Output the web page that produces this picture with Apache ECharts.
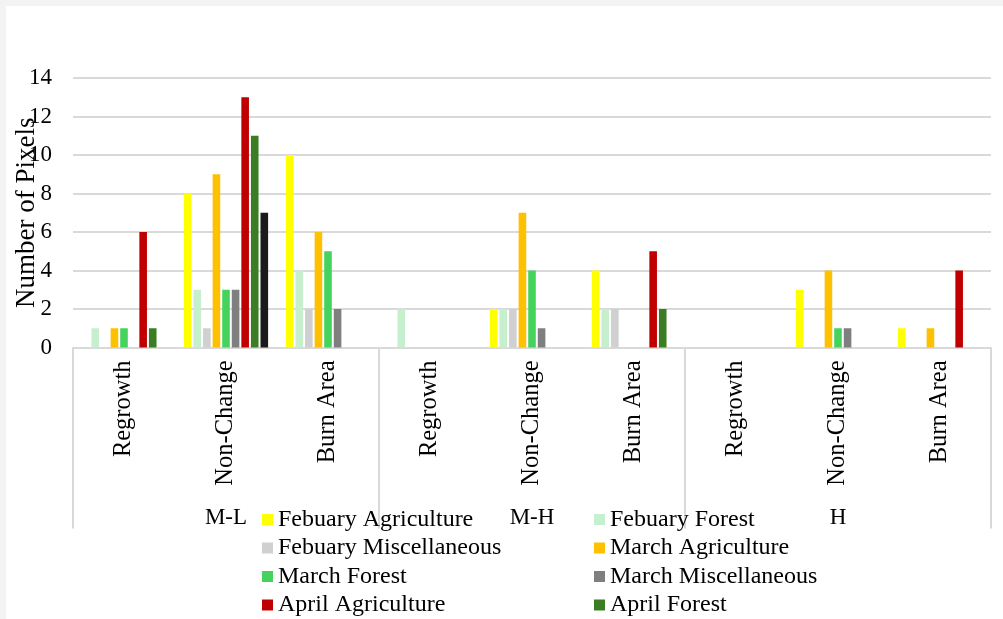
<!DOCTYPE html>
<html>
<head>
<meta charset="utf-8">
<style>
  html, body { margin: 0; padding: 0; background: #f3f3f3; width: 1003px; height: 619px; overflow: hidden; }
  #chart { position: absolute; left: 6px; top: 6px; width: 997px; height: 613px; background: #ffffff; }
</style>
<script src="https://cdn.jsdelivr.net/npm/echarts@6/dist/echarts.min.js"></script>
</head>
<body>
<div id="chart"></div>
<script>
// Change classes within each severity group
const classes = ['Regrowth', 'Non-Change', 'Burn Area', 'Regrowth', 'Non-Change', 'Burn Area', 'Regrowth', 'Non-Change', 'Burn Area'];
const groups = ['M-L', 'M-H', 'H'];
const yTicks = [0, 2, 4, 6, 8, 10, 12, 14];

// Pixel counts per class (order follows `classes`)
const febAgriculture   = [0, 8, 10, 0, 2, 4, 0, 3, 1];
const febForest        = [1, 3, 4, 2, 2, 2, 0, 0, 0];
const febMisc          = [0, 1, 2, 0, 2, 2, 0, 0, 0];
const marAgriculture   = [1, 9, 6, 0, 7, 0, 0, 4, 1];
const marForest        = [1, 3, 5, 0, 4, 0, 0, 1, 0];
const marMisc          = [0, 3, 2, 0, 1, 0, 0, 1, 0];
const aprAgriculture   = [6, 13, 0, 0, 0, 5, 0, 0, 4];
const aprForest        = [1, 11, 0, 0, 0, 2, 0, 0, 0];
const aprMisc          = [0, 7, 0, 0, 0, 0, 0, 0, 0];

const seriesDefs = [
  { name: 'Febuary Agriculture',    data: febAgriculture, color: '#ffff00' },
  { name: 'Febuary Forest',         data: febForest,      color: '#c6efcd' },
  { name: 'Febuary Miscellaneous',  data: febMisc,        color: '#d0d0d0' },
  { name: 'March Agriculture',      data: marAgriculture, color: '#ffc000' },
  { name: 'March Forest',           data: marForest,      color: '#45d35e' },
  { name: 'March Miscellaneous',    data: marMisc,        color: '#7f7f7f' },
  { name: 'April Agriculture',      data: aprAgriculture, color: '#c00000' },
  { name: 'April Forest',           data: aprForest,      color: '#3a7d23' },
  { name: 'April Miscellaneous',    data: aprMisc,        color: '#1b1b1b' }
];

const FONT = "'Liberation Serif', 'Times New Roman', serif";
const GRIDLINE = '#d9d9d9';
const textStyle = { color: '#000', fontFamily: FONT, fontSize: 23 };

const chart = echarts.init(document.getElementById('chart'), null, { renderer: 'canvas' });

// Legend laid out as two columns, one legend entry per slot
const LEGEND_COLS = [256, 588];
const LEGEND_TOP = 499.5;
const LEGEND_ROW = 28.5;
const legends = seriesDefs.map((s, i) => ({
  orient: 'horizontal',
  left: LEGEND_COLS[i % 2],
  top: LEGEND_TOP + Math.floor(i / 2) * LEGEND_ROW,
  itemWidth: 11,
  itemHeight: 11,
  icon: 'rect',
  selectedMode: false,
  padding: 0,
  data: [s.name],
  textStyle: Object.assign({}, textStyle, { fontSize: 24, lineHeight: 28 })
}));

chart.setOption({
  animation: false,
  backgroundColor: '#ffffff',
  textStyle: { fontFamily: FONT },
  grid: { left: 67, right: 12, top: 72, bottom: 271.5, containLabel: false, outerBoundsMode: 'none' },
  legend: legends,
  xAxis: [
    {
      type: 'category',
      data: classes,
      position: 'bottom',
      axisLine: { show: true, lineStyle: { color: GRIDLINE, width: 2 } },
      axisTick: { show: false },
      axisLabel: Object.assign({}, textStyle, { fontSize: 24.5, rotate: 90, margin: 13, interval: 0 })
    },
    {
      type: 'category',
      data: groups,
      position: 'bottom',
      axisLine: { show: false },
      axisTick: { show: true, length: 181, lineStyle: { color: GRIDLINE, width: 2 } },
      axisLabel: Object.assign({}, textStyle, { margin: 159, interval: 0 })
    }
  ],
  yAxis: {
    type: 'value',
    min: yTicks[0],
    max: yTicks[yTicks.length - 1],
    interval: 2,
    name: 'Number of Pixels',
    nameLocation: 'middle',
    nameGap: 33,
    nameMoveOverlap: false,
    nameTextStyle: Object.assign({}, textStyle, { fontSize: 27 }),
    axisLine: { show: false },
    axisTick: { show: false },
    axisLabel: Object.assign({}, textStyle, { margin: 21 }),
    splitLine: { lineStyle: { color: GRIDLINE, width: 2 } }
  },
  series: seriesDefs.map(s => ({
    type: 'bar',
    name: s.name,
    data: s.data,
    xAxisIndex: 0,
    barWidth: 7.6,
    barGap: '26%',
    itemStyle: { color: s.color },
    emphasis: { disabled: true }
  }))
});
</script>
</body>
</html>
